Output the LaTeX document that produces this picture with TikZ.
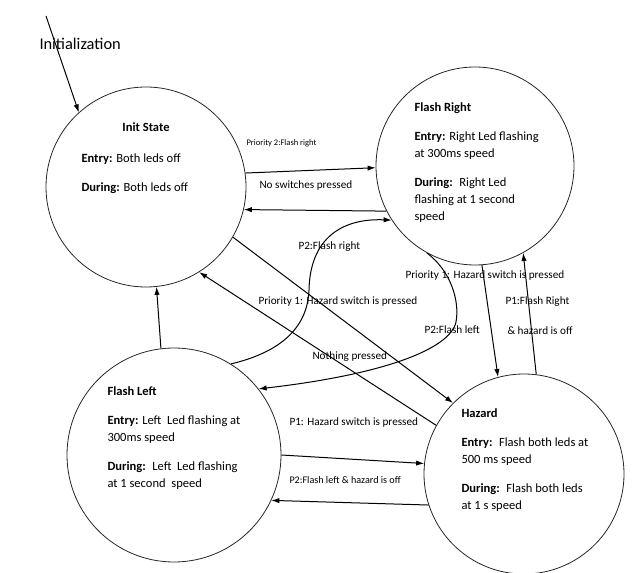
\documentclass[tikz,border=0pt]{standalone}
\usepackage{fontspec}
\setmainfont{Carlito}
\usetikzlibrary{arrows.meta}

\tikzset{every picture/.style={line width=0.75pt}}
\tikzset{
  state/.style={draw=black!85, circle, inner sep=0pt, line width=0.6pt},
  body/.style={anchor=north west, inner sep=0.75pt, align=left, font=\fontsize{9.4}{12.75}\selectfont},
  lbl/.style={anchor=west, inner sep=0.75pt, font=\fontsize{8.4}{10}\selectfont},
  trans/.style={-{Latex[length=6pt,width=4pt]}},
}

\begin{document}
\begin{tikzpicture}[x=0.75pt,y=0.75pt,yscale=-1,xscale=1]
\useasboundingbox (0,0) rectangle (639,573);

%Shape: Circle [init]
\node[state, minimum size=150pt] (init) at (146,187) {};
%Shape: Circle [flash right]
\node[state, minimum size=148.5pt] (fr) at (475,166) {};
%Shape: Circle [flash left]
\node[state, minimum size=160.5pt] (fl) at (174,455) {};
%Shape: Circle [hazard]
\node[state, minimum size=150pt] (hz) at (524,474) {};

% Text Node
\node[anchor=west, inner sep=0.75pt, font=\fontsize{12.3}{14}\selectfont] (initLbl) at (38,44) {Initialization};
% Text Node
\node[anchor=base, inner sep=0.75pt, font=\fontsize{9.4}{11}\selectfont] (initTitle) at (146,132) {\textbf{Init State}};
% Text Node
\node[body] (initBody) at (80,152) {\textbf{Entry:} Both leds off\\[9pt]\textbf{During:} Both leds off};
% Text Node
\node[body] (frBody) at (413,101) {\textbf{Flash Right}\\[9pt]\textbf{Entry:} Right Led flashing\\at 300ms speed\\[9pt]\textbf{During:}~ Right Led\\flashing at 1 second\\speed};
% Text Node
\node[body] (flBody) at (106,385) {\textbf{Flash Left}\\[9pt]\textbf{Entry:} Left~ Led flashing at\\300ms speed\\[9pt]\textbf{During:}~ Left~ Led flashing\\at 1 second~ speed};
% Text Node
\node[body] (hzBody) at (460,407) {\textbf{Hazard}\\[9pt]\textbf{Entry:}~ Flash both leds at\\500 ms speed\\[9pt]\textbf{During:}~ Flash both leds\\at 1 s speed};

%Straight Lines [initialization]
\coordinate (initStart) at (46,16);
\draw[trans] (initStart) -- (init.132.6);
%Straight Lines [init <-> flash right]
\draw[trans] (init.8.4) -- (fr.181);
\draw[trans] (fr.207.4) -- (init.-13.9);
%Straight Lines [init <-> hazard]
\draw[trans] (init.-30.9) -- (hz.135.4);
\draw[trans] (hz.151.9) -- (init.-58.8);
%Straight Lines [flash left -> init]
\draw[trans] (fl.97.5) -- (init.-84);
%Straight Lines [flash right <-> hazard]
\draw[trans] (fr.-86.6) -- (hz.105.8);
\draw[trans] (hz.83.2) -- (fr.-61.7);
%Straight Lines [flash left <-> hazard]
\draw[trans] (fl.-0.5) -- (hz.174.8);
\draw[trans] (hz.198.8) -- (fl.-25.9);
%Curve Lines [flash left -> flash right]
\draw[trans] (fl.58.7) .. controls (290,350) and (308,320) .. (309,290) .. controls (310,240) and (340,218) .. (fr.213.5);
%Curve Lines [flash right -> flash left]
\draw[trans] (fr.241.6) .. controls (450,270) and (460,300) .. (456,322) .. controls (450,350) and (380,375) .. (fl.38.3);

% Text Node
\node[lbl, font=\fontsize{6.4}{8}\selectfont] (l1) at (245,143) {Priority 2:Flash right};
% Text Node
\node[lbl] (l2) at (258,186) {No switches pressed};
% Text Node
\node[lbl] (l3) at (297,247) {P2:Flash right};
% Text Node
\node[lbl] (l4) at (257,302) {Priority 1: Hazard switch is pressed};
% Text Node
\node[lbl] (l5) at (404,276) {Priority 1: Hazard switch is pressed};
% Text Node
\node[lbl] (l6) at (423,330) {P2:Flash left};
% Text Node
\node[lbl] (l7) at (311,357) {Nothing pressed};
% Text Node
\node[lbl] (l8) at (504,302) {P1:Flash Right};
% Text Node
\node[lbl] (l9) at (506,331) {\& hazard is off};
% Text Node
\node[lbl] (l10) at (288,423) {P1: Hazard switch is pressed};
% Text Node
\node[lbl, font=\fontsize{7.6}{9}\selectfont] (l11) at (288,480) {P2:Flash left \& hazard is off};

\end{tikzpicture}
\end{document}
